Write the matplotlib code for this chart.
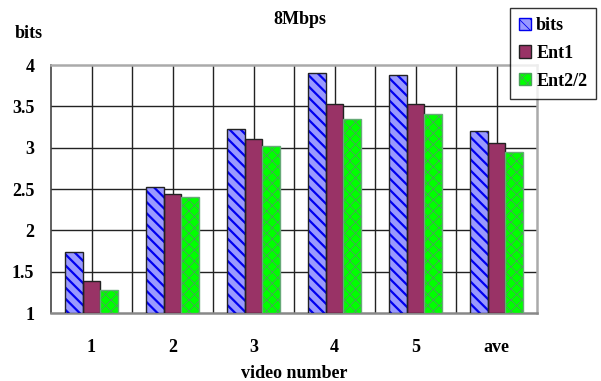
import matplotlib
matplotlib.use("Agg")
import matplotlib.pyplot as plt
import numpy as np
from matplotlib.patches import Patch

categories = ["1", "2", "3", "4", "5", "ave"]
series_names = ["bits", "Ent1", "Ent2/2"]
bits = [1.74, 2.52, 3.23, 3.90, 3.88, 3.20]
ent1 = [1.39, 2.44, 3.10, 3.53, 3.53, 3.06]
ent2 = [1.28, 2.40, 3.02, 3.35, 3.41, 2.95]
yticks = [1, 1.5, 2, 2.5, 3, 3.5, 4]
ytick_labels = ["1", "1.5", "2", "2.5", "3", "3.5", "4"]

plt.rcParams['font.family'] = ['Liberation Serif', 'DejaVu Serif']
plt.rcParams['font.weight'] = 'bold'
plt.rcParams['hatch.linewidth'] = 1.6

FS = 13

fig = plt.figure(figsize=(6.01, 3.81), dpi=100)
ax = fig.add_axes([51/601, 1-313/381, (537-51)/601, (313-65)/381])

x = np.arange(len(categories))
w = 0.215
offs = [-w, 0, w]

# bits: light blue fill with blue hatch
ax.bar(x + offs[0], np.array(bits) - 1, w, bottom=1, color='#9999ff',
       hatch='\\\\\\', edgecolor='#0000ee', linewidth=0, zorder=3)
ax.bar(x + offs[0], np.array(bits) - 1, w, bottom=1, fill=False,
       edgecolor='#222222', linewidth=1.0, zorder=4)
# Ent1
ax.bar(x + offs[1], np.array(ent1) - 1, w, bottom=1, color='#993366',
       edgecolor='#222222', linewidth=1.0, zorder=3)
# Ent2/2
plt.rcParams['hatch.linewidth'] = 0.6
ax.bar(x + offs[2], np.array(ent2) - 1, w, bottom=1, color='#00ff00',
       hatch='xxx', edgecolor='#4aa05a', linewidth=0, zorder=3)
ax.bar(x + offs[2], np.array(ent2) - 1, w, bottom=1, fill=False,
       edgecolor='#66aa77', linewidth=1.0, zorder=4)

ax.set_xlim(-0.5, len(categories) - 0.5)
ax.set_ylim(1, 4)
ax.set_yticks(yticks)
ax.set_yticklabels(ytick_labels, fontsize=FS, fontweight='bold')
ax.set_xticks(x)
ax.set_xticklabels(categories, fontsize=FS, fontweight='bold')
ax.tick_params(axis='both', length=0)
ax.tick_params(axis='x', pad=19)
ax.tick_params(axis='y', pad=12)

# grid: horizontal + vertical at centers and boundaries
for yv in yticks[1:-1]:
    ax.axhline(yv, color='#222222', linewidth=1.0, zorder=1)
for xv in np.arange(-0.5, len(categories) - 0.5, 0.5)[1:]:
    ax.axvline(xv, color='#222222', linewidth=1.0, zorder=1)

for s in ['top', 'right', 'bottom']:
    ax.spines[s].set_color('#aaaaaa')
    ax.spines[s].set_linewidth(1.8)
ax.spines['bottom'].set_color('#888888')
ax.spines['left'].set_color('#444444')
ax.spines['left'].set_linewidth(1.2)

fig.text(300/601, 1-20/381, "8Mbps", ha='center', va='center', fontsize=FS, fontweight='bold')
fig.text(29/601, 1-33/381, "bits", ha='center', va='center', fontsize=FS, fontweight='bold')
fig.text(294/601, 1-373/381, "video number", ha='center', va='center', fontsize=FS, fontweight='bold')

handles = [
    Patch(facecolor='#9999ff', hatch='\\\\\\', edgecolor='#0000ee'),
    Patch(facecolor='#993366', edgecolor='#222222'),
    Patch(facecolor='#00ff00', hatch='xxx', edgecolor='#4aa05a'),
]
leg = fig.legend(handles, series_names, loc='upper left',
                 bbox_to_anchor=(510/601, 1-8/381),
                 prop={'weight': 'bold', 'size': FS},
                 frameon=True, fancybox=False, handlelength=0.65,
                 handleheight=0.65, handletextpad=0.3, labelspacing=0.6,
                 borderpad=0.5, borderaxespad=0)
leg.get_frame().set_edgecolor('black')
leg.get_frame().set_linewidth(1.0)

fig.savefig("out.png", dpi=100)
